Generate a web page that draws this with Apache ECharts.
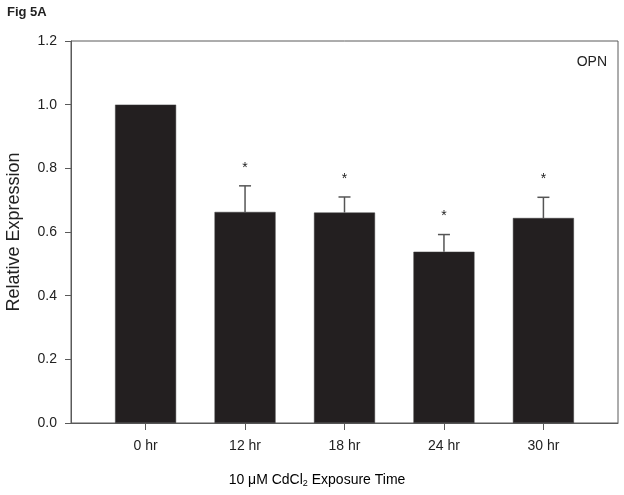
<!DOCTYPE html>
<html>
<head>
<meta charset="utf-8">
<script src="https://cdn.jsdelivr.net/npm/echarts@6/dist/echarts.min.js"></script>
<style>
  html, body { margin: 0; padding: 0; background: #fff; }
  #chart { width: 624px; height: 495px; }
</style>
</head>
<body>
<div id="chart"></div>
<script>
  // data
  var categories = ['0 hr', '12 hr', '18 hr', '24 hr', '30 hr']
  var means = [1.0, 0.663, 0.661, 0.538, 0.644]
  var errors = [0, 0.082, 0.049, 0.054, 0.065]
  var significant = [false, true, true, true, true]
  var yTicks = [0, 0.2, 0.4, 0.6, 0.8, 1.0, 1.2]

  var FONT = '"Liberation Sans", Arial, sans-serif'
  var AXIS = '#5a5a5a'

  var barData = means.map(function (v, i) { return [i, v] })
  var idx = categories.map(function (c, i) { return i })

  var chart = echarts.init(document.getElementById('chart'))
  var option = {
    animation: false,
    backgroundColor: '#fff',
    grid: {
      left: 71, right: 6, top: 41, bottom: 72,
      outerBoundsMode: 'none',
      containLabel: false,
      show: true, borderColor: AXIS, borderWidth: 1
    },
    graphic: [
      {
        type: 'text', left: 7, top: 6,
        style: { text: 'Fig 5A', font: 'bold 13px "Liberation Sans Narrow", "Liberation Sans", sans-serif', fill: '#222' }
      },
      {
        type: 'text', right: 17, top: 55,
        style: { text: 'OPN', font: '14px ' + FONT, fill: '#222' }
      },
      {
        type: 'text', x: 317, y: 480,
        style: {
          text: '{n|10 μM CdCl}{s|2}{n| Exposure Time}',
          align: 'center', verticalAlign: 'middle',
          rich: {
            n: { fontSize: 14, fontFamily: FONT, color: '#222' },
            s: { fontSize: 9, fontFamily: FONT, color: '#222', padding: [8, 0, 0, 0] }
          }
        }
      }
    ],
    xAxis: {
      type: 'value',
      min: -0.75,
      max: 4.75,
      splitLine: { show: false },
      axisLine: { onZero: false, lineStyle: { color: AXIS, width: 1 } },
      axisTick: { customValues: idx, length: 7, lineStyle: { color: AXIS } },
      axisLabel: {
        customValues: idx,
        margin: 16,
        fontSize: 14, fontFamily: FONT, color: '#222',
        formatter: function (v) { return categories[Math.round(v)] }
      }
    },
    yAxis: {
      type: 'value',
      min: 0, max: 1.2, interval: 0.2,
      name: 'Relative Expression',
      nameLocation: 'middle',
      nameGap: 48,
      nameTextStyle: { fontSize: 18, fontFamily: FONT, color: '#222' },
      splitLine: { show: false },
      axisLine: { show: true, onZero: false, lineStyle: { color: AXIS, width: 1 } },
      axisTick: { show: true, length: 6, lineStyle: { color: AXIS } },
      axisLabel: {
        margin: 14,
        fontSize: 14, fontFamily: FONT, color: '#222',
        formatter: function (v) { return v.toFixed(1) }
      }
    },
    series: [
      {
        type: 'bar',
        barWidth: 61,
        itemStyle: { color: '#231f20', borderColor: '#3a3a3a', borderWidth: 0.5 },
        data: barData
      },
      {
        // upper error bars and significance stars
        type: 'custom',
        z: 5,
        clip: true,
        data: barData,
        encode: { x: 0, y: 1 },
        renderItem: function (params, api) {
          var i = params.dataIndex
          var m = means[i], e = errors[i]
          if (!(e > 0) && !significant[i]) return null
          var base = api.coord([i, m])
          var top = api.coord([i, m + e])
          var children = []
          if (e > 0) {
            children.push({
              type: 'line',
              shape: { x1: base[0], y1: base[1], x2: top[0], y2: top[1] },
              style: { stroke: '#555', lineWidth: 1.5 }
            })
            children.push({
              type: 'line',
              shape: { x1: top[0] - 6, y1: top[1], x2: top[0] + 6, y2: top[1] },
              style: { stroke: '#555', lineWidth: 1.5 }
            })
          }
          if (significant[i]) {
            children.push({
              type: 'text',
              x: top[0], y: top[1] - 11,
              style: { text: '*', font: '14px ' + FONT, fill: '#222', align: 'center', verticalAlign: 'bottom' }
            })
          }
          return { type: 'group', children: children }
        }
      }
    ]
  }
  chart.setOption(option)
</script>
</body>
</html>
